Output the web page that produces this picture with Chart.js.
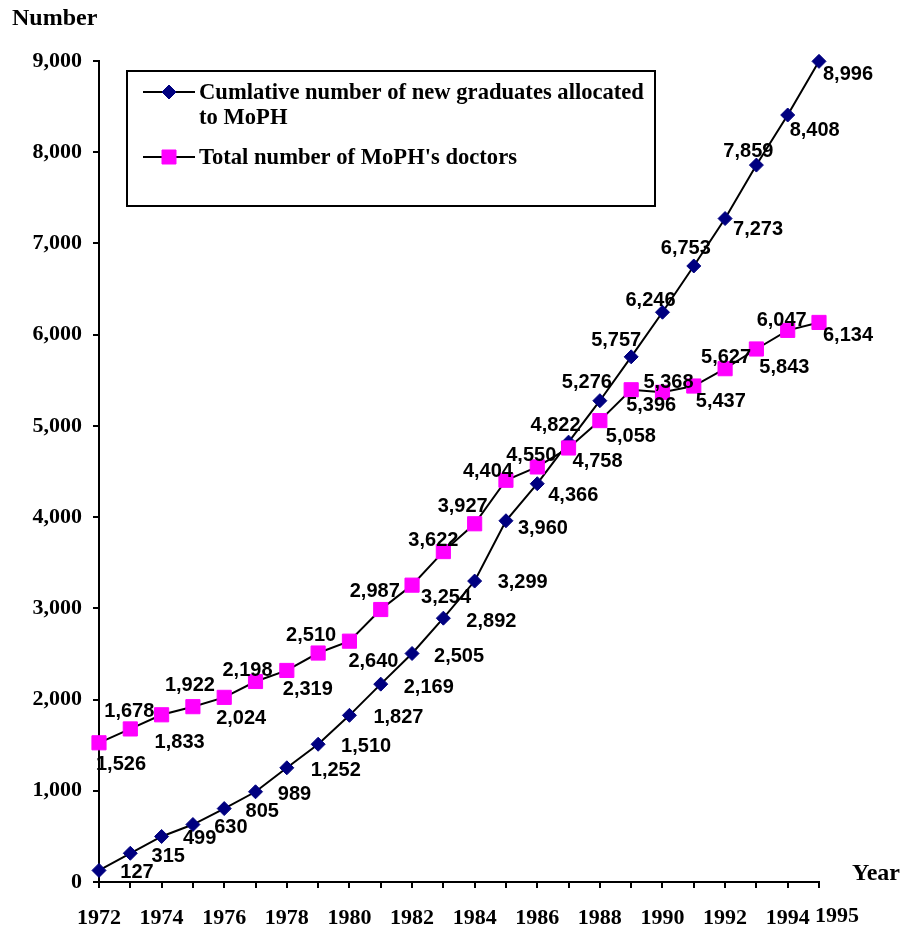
<!DOCTYPE html>
<html>
<head>
<meta charset="utf-8">
<script src="https://cdn.jsdelivr.net/npm/chart.js@4.4.1/dist/chart.umd.min.js"></script>
<style>
  html, body { margin: 0; padding: 0; background: #ffffff; }
  #wrap { width: 908px; height: 932px; position: relative; }
</style>
</head>
<body>
<div id="wrap"><canvas id="chart" width="908" height="932"></canvas></div>
<script>
// Years on the horizontal axis
const years = [1972, 1973, 1974, 1975, 1976, 1977, 1978, 1979, 1980, 1981, 1982, 1983,
               1984, 1985, 1986, 1987, 1988, 1989, 1990, 1991, 1992, 1993, 1994, 1995];

// Cumulative number of new graduates allocated to MoPH
const graduatesAllocated = [127, 315, 499, 630, 805, 989, 1252, 1510, 1827, 2169, 2505, 2892,
                            3299, 3960, 4366, 4822, 5276, 5757, 6246, 6753, 7273, 7859, 8408, 8996];

// Total number of MoPH's doctors
const mophDoctors = [1526, 1678, 1833, 1922, 2024, 2198, 2319, 2510, 2640, 2987, 3254, 3622,
                     3927, 4404, 4550, 4758, 5058, 5396, 5368, 5437, 5627, 5843, 6047, 6134];

const seriesNames = ['Cumlative number of new graduates allocated to MoPH', "Total number of MoPH's doctors"];
const yAxisTitle = 'Number';
const xAxisTitle = 'Year';
const yMax = 9000;
const yStep = 1000;

// Where each value label sits relative to its marker (dx, dy in px)
const graduateLabelShift = [
  [38, 1], [38, 2], [38, 1], [38, 2], [38, 2], [39, 2], [49, 2], [48, 1], [49, 1], [48, 2],
  [47, 2], [48, 2], [48, 0], [37, 7], [36, 11], [-13, -18], [-13, -19], [-15, -17], [-12, -13],
  [-8, -18], [33, 10], [-8, -15], [27, 14], [29, 12]
];
const doctorLabelShift = [
  [22, 21], [-1, -18], [18, 27], [-3, -22], [17, 20], [-8, -12], [21, 18], [-7, -19], [24, 19],
  [-6, -19], [34, 11], [-10, -12], [-12, -18], [-18, -10], [-6, -12], [29, 13], [31, 15],
  [20, 15], [6, -11], [27, 14], [1, -12], [28, 17], [-6, -11], [29, 12]
];

const SERIF = '"Liberation Serif", "Times New Roman", Times, serif';
const SANS = '"Liberation Sans", Arial, Helvetica, sans-serif';
const NAVY = '#000080';
const MAGENTA = '#FF00FF';

function withCommas(v) {
  return String(v).replace(/\B(?=(\d{3})+(?!\d))/g, ',');
}

function drawMarker(ctx, style, x, y, fill) {
  ctx.save();
  ctx.fillStyle = fill;
  ctx.strokeStyle = fill;
  ctx.lineWidth = 1;
  ctx.beginPath();
  if (style === 'rectRot') {
    const r = 7;
    ctx.moveTo(x, y - r); ctx.lineTo(x + r, y); ctx.lineTo(x, y + r); ctx.lineTo(x - r, y);
    ctx.closePath();
  } else {
    const h = 7;
    ctx.rect(x - h, y - h, 2 * h, 2 * h);
  }
  ctx.fill();
  ctx.stroke();
  ctx.restore();
}

// Value labels next to every marker
const valueLabels = {
  id: 'valueLabels',
  afterDatasetsDraw(chart) {
    const ctx = chart.ctx;
    const shifts = [graduateLabelShift, doctorLabelShift];
    ctx.save();
    ctx.font = 'bold 20px ' + SANS;
    ctx.fillStyle = '#000';
    ctx.textAlign = 'center';
    ctx.textBaseline = 'middle';
    chart.data.datasets.forEach((ds, di) => {
      const meta = chart.getDatasetMeta(di);
      meta.data.forEach((pt, i) => {
        const s = shifts[di][i];
        ctx.fillText(withCommas(ds.data[i].y), pt.x + s[0], pt.y + s[1] + 1);
      });
    });
    ctx.restore();
  }
};

// Axis titles, last year label and the boxed legend
const decorations = {
  id: 'decorations',
  afterDraw(chart) {
    const ctx = chart.ctx;
    const xs = chart.scales.x;
    ctx.save();
    ctx.fillStyle = '#000';
    ctx.textBaseline = 'middle';

    ctx.font = 'bold 24px ' + SERIF;
    ctx.textAlign = 'left';
    ctx.fillText(yAxisTitle, 12, 19);
    ctx.fillText(xAxisTitle, 852, 874);

    ctx.font = 'bold 22px ' + SERIF;
    ctx.textAlign = 'center';
    const last = years[years.length - 1];
    ctx.fillText(String(last), xs.getPixelForValue(last) + 18, 916);

    // legend
    const bx = 127, by = 71, bw = 528, bh = 135;
    ctx.lineWidth = 2;
    ctx.strokeStyle = '#000';
    ctx.strokeRect(bx, by, bw, bh);
    const entryY = [92, 157];
    const markerStyles = ['rectRot', 'rect'];
    const fills = [NAVY, MAGENTA];
    ctx.font = 'bold 22.6px ' + SERIF;
    ctx.textAlign = 'left';
    chart.data.datasets.forEach((ds, i) => {
      const y = entryY[i];
      ctx.beginPath();
      ctx.moveTo(143, y); ctx.lineTo(195, y);
      ctx.lineWidth = 2; ctx.strokeStyle = '#000';
      ctx.stroke();
      drawMarker(ctx, markerStyles[i], 169, y, fills[i]);
      // wrap the series name inside the box
      const words = ds.label.split(' ');
      const lines = [];
      let cur = '';
      words.forEach(w => {
        const test = cur ? cur + ' ' + w : w;
        if (ctx.measureText(test).width > 450 && cur) { lines.push(cur); cur = w; }
        else cur = test;
      });
      if (cur) lines.push(cur);
      lines.forEach((ln, k) => ctx.fillText(ln, 199, y + 1 + k * 25));
    });
    ctx.restore();
  }
};

new Chart(document.getElementById('chart'), {
  type: 'line',
  data: {
    datasets: [
      {
        label: seriesNames[0],
        data: years.map((yr, i) => ({ x: yr, y: graduatesAllocated[i] })),
        borderColor: '#000',
        borderWidth: 2,
        pointStyle: 'rectRot',
        pointRadius: 7,
        pointBackgroundColor: NAVY,
        pointBorderColor: NAVY,
        pointBorderWidth: 1,
        tension: 0,
        clip: false,
        order: 1
      },
      {
        label: seriesNames[1],
        data: years.map((yr, i) => ({ x: yr, y: mophDoctors[i] })),
        borderColor: '#000',
        borderWidth: 2,
        pointStyle: 'rect',
        pointRadius: 10,
        pointBackgroundColor: MAGENTA,
        pointBorderColor: MAGENTA,
        pointBorderWidth: 1,
        tension: 0,
        clip: false,
        order: 0
      }
    ]
  },
  options: {
    responsive: false,
    animation: false,
    devicePixelRatio: 1,
    layout: { padding: { left: 0, right: 89, top: 61, bottom: 0 } },
    plugins: {
      legend: { display: false },
      tooltip: { enabled: false },
      title: { display: false }
    },
    scales: {
      x: {
        type: 'linear',
        min: years[0],
        max: years[years.length - 1],
        afterFit(scale) { scale.height = 50; },
        border: { display: true, color: '#000', width: 2 },
        grid: { drawOnChartArea: false, drawTicks: true, tickLength: 6, color: '#000', tickColor: '#000', lineWidth: 2 },
        ticks: {
          stepSize: 1,
          autoSkip: false,
          maxRotation: 0,
          padding: 17,
          color: '#000',
          font: { family: SERIF, size: 22, weight: 'bold' },
          callback: (v) => (v % 2 === 0 ? String(v) : '')
        }
      },
      y: {
        min: 0,
        max: yMax,
        afterFit(scale) { scale.width = 99; },
        border: { display: true, color: '#000', width: 2 },
        grid: { drawOnChartArea: false, drawTicks: true, tickLength: 6, color: '#000', tickColor: '#000', lineWidth: 2 },
        ticks: {
          stepSize: yStep,
          padding: 11,
          color: '#000',
          font: { family: SERIF, size: 22, weight: 'bold' },
          callback: (v) => withCommas(v)
        }
      }
    }
  },
  plugins: [valueLabels, decorations]
});
</script>
</body>
</html>
